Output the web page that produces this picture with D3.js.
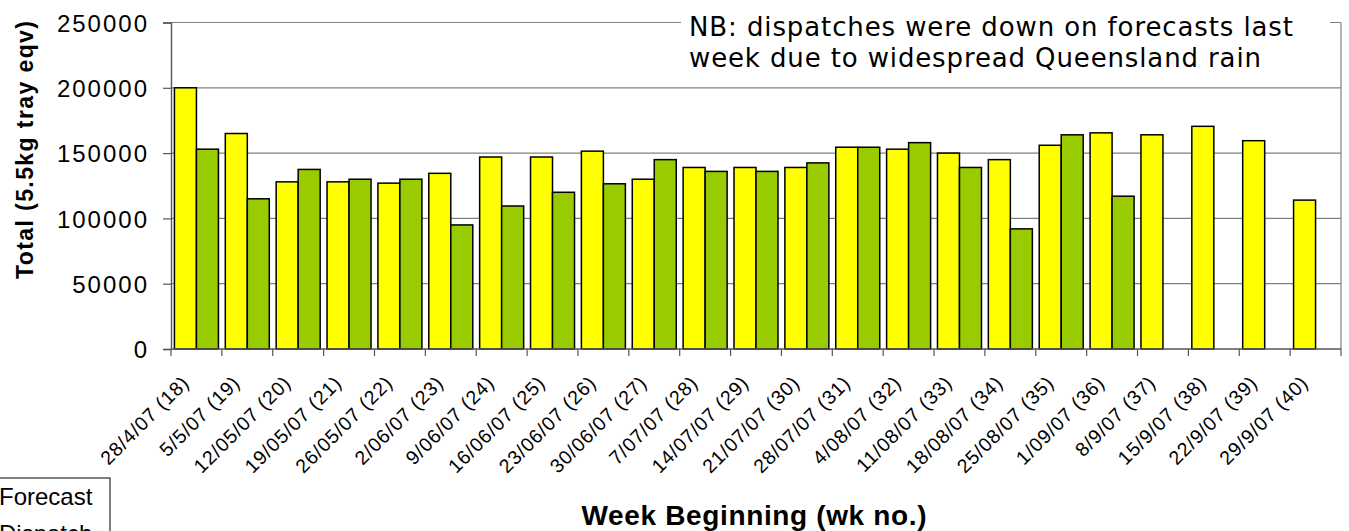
<!DOCTYPE html>
<html>
<head>
<meta charset="utf-8">
<script src="https://cdn.jsdelivr.net/npm/d3@7"></script>
<style>
  body { margin: 0; background: #fff; }
  svg { display: block; }
</style>
</head>
<body>
<svg id="chart"></svg>
<script>
const width = 1349, height = 531;

// Chart data
const weeks = ["28/4/07 (18)", "5/5/07 (19)", "12/05/07 (20)", "19/05/07 (21)", "26/05/07 (22)",
    "2/06/07 (23)", "9/06/07 (24)", "16/06/07 (25)", "23/06/07 (26)", "30/06/07 (27)",
    "7/07/07 (28)", "14/07/07 (29)", "21/07/07 (30)", "28/07/07 (31)", "4/08/07 (32)",
    "11/08/07 (33)", "18/08/07 (34)", "25/08/07 (35)", "1/09/07 (36)", "8/9/07 (37)",
    "15/9/07 (38)", "22/9/07 (39)", "29/9/07 (40)"];
const forecast = [200000, 165000, 128000, 128000, 127000, 134500, 147000, 147000, 151500, 130000,
    139000, 139000, 139000, 154500, 153000, 150000, 145000, 156000, 165500, 164000,
    170500, 159500, 114000];
const dispatch = [153000, 115000, 137500, 130000, 130000, 95000, 109500, 120000, 126500, 145000,
    136000, 136000, 142500, 154500, 158000, 139000, 92000, 164000, 117000];
const yTicks = [0, 50000, 100000, 150000, 200000, 250000];
const seriesNames = ["Forecast", "Dispatch"];
const seriesColors = ["#ffff00", "#99cc00"];
const noteLines = ["NB: dispatches were down on forecasts last",
    "week due to widespread Queensland rain"];

const plot = {left: 171, top: 22.5, right: 1341, bottom: 349};
const font = "'Liberation Sans', Arial, sans-serif";

const svg = d3.select("#chart").attr("width", width).attr("height", height);

const x = d3.scaleBand().domain(weeks).range([plot.left, plot.right]);
const xSub = d3.scaleBand().domain(seriesNames).range([0, x.bandwidth()]).paddingOuter(0.156);
const y = d3.scaleLinear().domain([0, 250000]).range([plot.bottom, plot.top]);

// gridlines
svg.append("g")
    .selectAll("line")
    .data(yTicks.slice(1))
    .join("line")
    .attr("x1", plot.left).attr("x2", plot.right)
    .attr("y1", d => y(d)).attr("y2", d => y(d))
    .style("stroke", "#808080")
    .style("stroke-width", 1.2);

// right border of plot area
svg.append("line")
    .attr("x1", plot.right).attr("x2", plot.right)
    .attr("y1", plot.top).attr("y2", plot.bottom)
    .style("stroke", "#808080")
    .style("stroke-width", 1.2);

// bars
const rows = [];
weeks.forEach((w, i) => {
    rows.push({week: w, series: "Forecast", value: forecast[i]});
    if (dispatch[i] !== undefined) rows.push({week: w, series: "Dispatch", value: dispatch[i]});
});

svg.append("g")
    .selectAll("rect")
    .data(rows)
    .join("rect")
    .attr("x", d => x(d.week) + xSub(d.series))
    .attr("y", d => y(d.value))
    .attr("width", xSub.bandwidth())
    .attr("height", d => plot.bottom - y(d.value))
    .style("fill", d => seriesColors[seriesNames.indexOf(d.series)])
    .style("stroke", "#000")
    .style("stroke-width", 1.5);

// y axis
const yAxis = svg.append("g")
    .attr("transform", `translate(${plot.left},0)`)
    .call(d3.axisLeft(y).tickValues(yTicks).tickSize(8).tickPadding(14).tickFormat(d3.format("d")));
yAxis.select(".domain").style("stroke", "#555").style("stroke-width", 1.4);
yAxis.selectAll(".tick line").style("stroke", "#555").style("stroke-width", 1.2);
yAxis.selectAll(".tick text")
    .style("font-family", font)
    .style("font-size", "24px")
    .style("letter-spacing", "2px")
    .style("fill", "#000")
    .attr("dy", "0.36em");

// x axis: ticks sit between categories
const xAxis = svg.append("g").attr("transform", `translate(0,${plot.bottom})`);
xAxis.append("line")
    .attr("x1", plot.left).attr("x2", plot.right)
    .style("stroke", "#555").style("stroke-width", 1.4);
xAxis.selectAll(".sep")
    .data(weeks.concat(["end"]))
    .join("line")
    .attr("class", "sep")
    .attr("x1", (d, i) => plot.left + i * x.step())
    .attr("x2", (d, i) => plot.left + i * x.step())
    .attr("y1", 0).attr("y2", 7)
    .style("stroke", "#555").style("stroke-width", 1.2);

xAxis.selectAll(".lbl")
    .data(weeks)
    .join("text")
    .attr("class", "lbl")
    .attr("transform", d => `translate(${x(d) + x.bandwidth() / 2 - 6},${35}) rotate(-45)`)
    .attr("text-anchor", "end")
    .style("font-family", font)
    .style("font-size", "19.5px")
    .style("letter-spacing", "0.9px")
    .text(d => d);

// axis titles
svg.append("text")
    .attr("x", 754)
    .attr("y", 525)
    .attr("text-anchor", "middle")
    .attr("textLength", 345)
    .attr("lengthAdjust", "spacing")
    .style("font-family", font)
    .style("font-size", "28px")
    .style("font-weight", "bold")
    .text("Week Beginning (wk no.)");

svg.append("text")
    .attr("transform", "translate(33,150) rotate(-90)")
    .attr("text-anchor", "middle")
    .attr("textLength", 258)
    .attr("lengthAdjust", "spacing")
    .style("font-family", font)
    .style("font-size", "23px")
    .style("font-weight", "bold")
    .text("Total (5.5kg tray eqv)");

// note box over top right of the plot
const note = svg.append("g");
note.append("rect")
    .attr("x", 681).attr("y", 4)
    .attr("width", 649).attr("height", 74)
    .style("fill", "#fff");
note.selectAll("text")
    .data(noteLines)
    .join("text")
    .attr("x", 689)
    .attr("y", (d, i) => 36 + i * 30.5)
    .attr("textLength", (d, i) => i === 0 ? 604 : 572)
    .attr("lengthAdjust", "spacing")
    .style("font-family", "'DejaVu Sans', Verdana, sans-serif")
    .style("font-size", "26px")
    .style("fill", "#000")
    .text(d => d);

// legend, mostly pushed off the left edge
const legend = svg.append("g");
legend.append("rect")
    .attr("x", -60).attr("y", 478)
    .attr("width", 170).attr("height", 90)
    .style("fill", "#fff")
    .style("stroke", "#000")
    .style("stroke-width", 1);
seriesNames.forEach((name, i) => {
    legend.append("rect")
        .attr("x", -40).attr("y", 489 + i * 37)
        .attr("width", 14).attr("height", 14)
        .style("fill", seriesColors[i])
        .style("stroke", "#000");
    legend.append("text")
        .attr("x", -1)
        .attr("y", 505 + i * 37)
        .style("font-family", font)
        .style("font-size", "24px")
        .text(name);
});
</script>
</body>
</html>
